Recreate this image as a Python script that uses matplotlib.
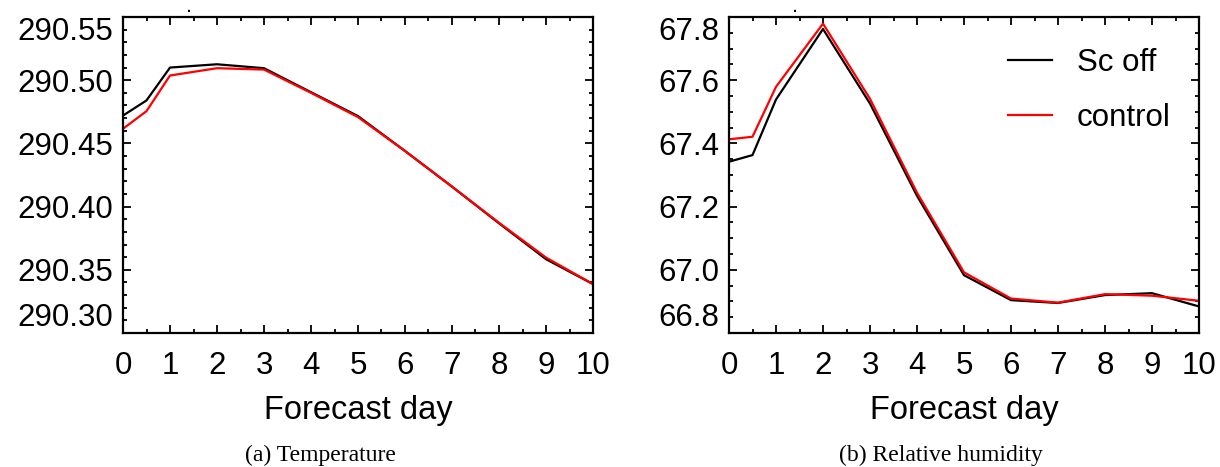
import numpy as np
import matplotlib.pyplot as plt
from matplotlib.ticker import MultipleLocator

plt.rcParams['font.family'] = ['Liberation Sans', 'DejaVu Sans']

# forecast days
days = [0, 0.5, 1, 2, 3, 4, 5, 6, 7, 8, 9, 10]

# (a) temperature
temp_sc_off = [290.472, 290.484, 290.510, 290.5126, 290.5095, 290.4905, 290.4716,
               290.444, 290.4158, 290.3868, 290.3584, 290.3387]
temp_control = [290.4616, 290.4755, 290.5037, 290.5095, 290.5084, 290.4900, 290.4708,
                290.444, 290.4158, 290.3872, 290.3597, 290.3387]

# (b) relative humidity
rh_sc_off = [67.342, 67.363, 67.539, 67.762, 67.526, 67.234, 66.983,
             66.904, 66.895, 66.920, 66.926, 66.884]
rh_control = [67.413, 67.421, 67.579, 67.779, 67.541, 67.244, 66.992,
              66.909, 66.896, 66.923, 66.918, 66.902]

xticks = list(range(0, 11))
temp_ticks = [290.30, 290.35, 290.40, 290.45, 290.50, 290.55]
rh_ticks = [66.8, 67.0, 67.2, 67.4, 67.6, 67.8]

fig = plt.figure(figsize=(12.2, 4.67), dpi=100)
ax1 = fig.add_axes([123 / 1220, 1 - 333 / 467, 470 / 1220, 316 / 467])
ax2 = fig.add_axes([729 / 1220, 1 - 333 / 467, 470 / 1220, 316 / 467])


def style(ax, yticks, fmt, minor):
    ax.set_xlim(0, 10)
    ax.set_ylim(yticks[0], yticks[-1])
    ax.set_xticks(xticks)
    ax.xaxis.set_minor_locator(MultipleLocator(0.5))
    ax.set_yticks(yticks)
    ax.set_yticklabels([fmt % v for v in yticks])
    ax.yaxis.set_minor_locator(MultipleLocator(minor))
    ax.tick_params(which='both', direction='in', top=True, right=True,
                   labelsize=22.5, width=1.3)
    ax.tick_params(which='major', length=5.5)
    ax.tick_params(which='minor', length=3)
    ax.tick_params(axis='y', which='major', pad=7)
    ax.tick_params(axis='x', which='major', pad=13)
    for s in ax.spines.values():
        s.set_linewidth(1.6)
    labs = ax.get_yticklabels()
    labs[0].set_va('bottom')
    labs[-1].set_va('top')
    ax.set_xlabel('Forecast day', fontsize=23.5, labelpad=10)
    # stray mark above the frame
    ax.text(0.14, 1.015, '.', transform=ax.transAxes, fontsize=10,
            fontweight='bold', ha='center', va='baseline')


ax1.plot(days, temp_sc_off, color='black', lw=1.6)
ax1.plot(days, temp_control, color='red', lw=1.6)
style(ax1, temp_ticks, '%.2f', 0.01)

ax2.plot(days, rh_sc_off, color='black', lw=1.6, label='Sc off')
ax2.plot(days, rh_control, color='red', lw=1.6, label='control')
style(ax2, rh_ticks, '%.1f', 0.05)
ax2.legend(loc='upper right', frameon=False, fontsize=22.5, handlelength=1.4,
           handletextpad=0.8, labelspacing=0.8, bbox_to_anchor=(1.0, 0.99))

fig.text(320 / 1220, 1 - 455 / 467, '(a) Temperature', ha='center', va='center',
         fontsize=17, family='Liberation Serif')
fig.text(941 / 1220, 1 - 455 / 467, '(b) Relative humidity', ha='center', va='center',
         fontsize=17, family='Liberation Serif')

fig.savefig('out.png', dpi=100)
